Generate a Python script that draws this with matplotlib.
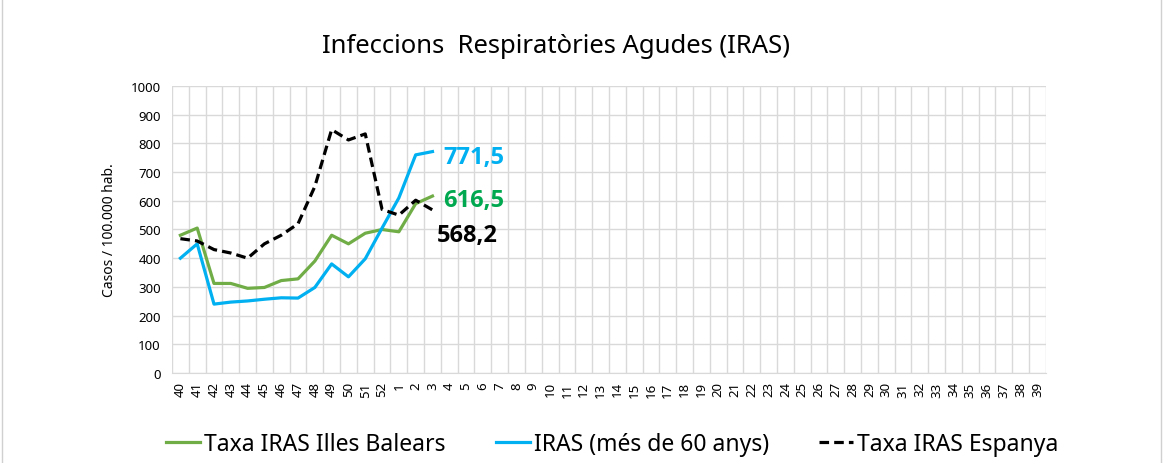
import numpy as np
import matplotlib
matplotlib.use("Agg")
from matplotlib import pyplot as plt

plt.rcParams['font.family'] = ['Noto Sans', 'DejaVu Sans']

weeks = [str(w) for w in list(range(40, 53)) + list(range(1, 40))]

balears = [480, 505, 312, 312, 295, 298, 322, 328, 390, 480, 450, 487, 500, 492, 590, 616.5]
iras_60 = [400, 450, 240, 247, 251, 257, 262, 261, 298, 380, 335, 398, 505, 610, 760, 771.5]
espanya = [468, 460, 430, 418, 400, 450, 480, 520, 650, 848, 812, 833, 570, 550, 602, 568.2]

green = '#70AD47'
blue = '#00B0F0'
black = '#000000'

fig = plt.figure(figsize=(11.66, 4.64), dpi=100)
ax = fig.add_axes([0.1475, 0.194, 0.7495, 0.6185])

x = np.arange(len(weeks))
ax.plot(x[:len(balears)], balears, color=green, lw=2.3, label='Taxa IRAS Illes Balears')
ax.plot(x[:len(iras_60)], iras_60, color=blue, lw=2.3, label='IRAS (més de 60 anys)')
ax.plot(x[:len(espanya)], espanya, color=black, lw=2.3, dashes=(3, 1.6), label='Taxa IRAS Espanya')

ax.set_xlim(-0.5, len(weeks) - 0.5)
ax.set_ylim(0, 1000)
ax.set_yticks(range(0, 1001, 100))
ax.set_xticks(x)
ax.set_xticklabels(weeks, rotation=90, fontsize=9.5)
ax.set_xticks(np.arange(-0.5, len(weeks), 1), minor=True)
ax.tick_params(axis='y', labelsize=9.5, length=0, pad=8)
ax.tick_params(axis='x', which='both', length=0, pad=6)
ax.grid(axis='y', which='major', color='#d9d9d9', lw=1)
ax.grid(axis='x', which='minor', color='#d9d9d9', lw=1)
ax.grid(axis='x', which='major', visible=False)
for s in ax.spines.values():
    s.set_visible(False)
ax.spines['bottom'].set_visible(True)
ax.spines['bottom'].set_color('#d9d9d9')
ax.set_axisbelow(True)
ax.set_ylabel('Casos / 100.000 hab.', fontsize=10, labelpad=10)

# end-of-line value labels (Open Sans has a bold face)
lbl = dict(textcoords='offset points', fontsize=17, fontweight='bold', va='center',
           family=['Open Sans', 'DejaVu Sans'])
ax.annotate('771,5', (len(iras_60) - 1, iras_60[-1]), xytext=(8, -4), color=blue, **lbl)
ax.annotate('616,5', (len(balears) - 1, balears[-1]), xytext=(8, -3), color='#00A84F', **lbl)
ax.annotate('568,2', (len(espanya) - 1, espanya[-1]), xytext=(3, -18), color=black, **lbl)

fig.text(0.477, 0.899, 'Infeccions  Respiratòries Agudes (IRAS)', fontsize=18.5, ha='center', va='center')

fig.legend(loc='center', bbox_to_anchor=(0.525, 0.041), ncol=3, frameon=False, fontsize=16.5,
           handlelength=1.5, handletextpad=0.15, columnspacing=2.2)

fig.patches.append(plt.Rectangle((0.002, -0.01), 0.994, 1.02, transform=fig.transFigure,
                                 fill=False, edgecolor='#d0d0d0', lw=1))

fig.savefig('out.png', dpi=100)
